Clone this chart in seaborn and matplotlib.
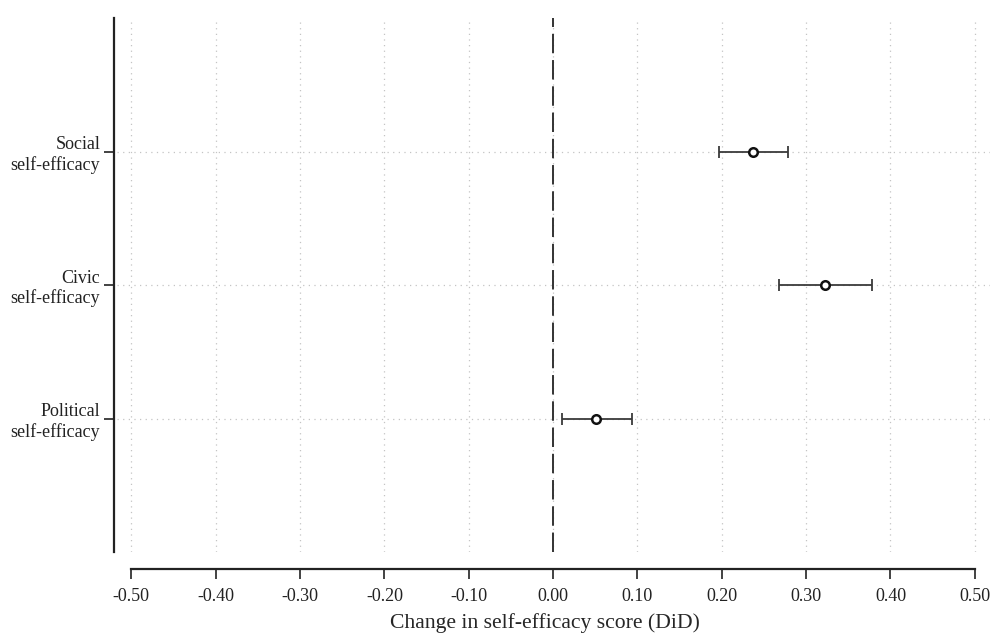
import pandas as pd
import seaborn as sns
import matplotlib.pyplot as plt

# Estimates (DiD coefficients with 95% CIs)
outcomes = ['Social\nself-efficacy', 'Civic\nself-efficacy', 'Political\nself-efficacy']
estimate = [0.237, 0.322, 0.051]
ci_low = [0.197, 0.268, 0.010]
ci_high = [0.278, 0.378, 0.093]
xticks = [-0.5, -0.4, -0.3, -0.2, -0.1, 0.0, 0.1, 0.2, 0.3, 0.4, 0.5]

df = pd.DataFrame({'outcome': outcomes, 'estimate': estimate,
                   'lo': ci_low, 'hi': ci_high})
df['pos'] = range(1, len(df) + 1)

sns.set_style('white')
plt.rcParams['font.family'] = ['Liberation Serif', 'DejaVu Serif']

fig = plt.figure(figsize=(9.93, 6.41), dpi=100)
ax = fig.add_axes([117 / 993, 1 - 552 / 641, (990 - 117) / 993, (552 - 18) / 641])

# grid lines
for x in xticks:
    ax.axvline(x, color='#c4c4c4', lw=0.9, ls=(0, (1, 3.5)), zorder=0)
for y in df['pos']:
    ax.axhline(y, color='#c4c4c4', lw=0.9, ls=(0, (1, 3.5)), zorder=0)

# reference line at zero
ax.axvline(0, color='#333333', lw=1.4, ls=(0, (10, 3.5)), zorder=1)

# confidence intervals
ax.errorbar(df['estimate'], df['pos'],
            xerr=[df['estimate'] - df['lo'], df['hi'] - df['estimate']],
            fmt='none', ecolor='#3a3a3a', elinewidth=1.3, capsize=4.5,
            capthick=1.3, zorder=2)

# point estimates
sns.scatterplot(data=df, x='estimate', y='pos', ax=ax, marker='o', s=38,
                facecolor='white', edgecolor='#111111', linewidth=1.8, zorder=3)

ax.set_xlim(-0.517, 0.518)
ax.set_ylim(4, 0)
ax.set_xticks(xticks)
ax.set_xticklabels([f'{x:.2f}' for x in xticks])
ax.set_yticks(df['pos'])
ax.set_yticklabels(df['outcome'], linespacing=1.0)
ax.set_xlabel('Change in self-efficacy score (DiD)', fontsize=15.6, labelpad=9)
ax.xaxis.set_label_coords(0.49, -0.115)
ax.set_ylabel('')

for side in ['top', 'right']:
    ax.spines[side].set_visible(False)
ax.spines['left'].set_position(('outward', 2))
ax.spines['left'].set_color('#222222')
ax.spines['left'].set_linewidth(1.6)
ax.spines['bottom'].set_position(('outward', 12))
ax.spines['bottom'].set_bounds(-0.5, 0.5)
ax.spines['bottom'].set_color('#222222')
ax.spines['bottom'].set_linewidth(1.6)

ax.tick_params(axis='x', direction='out', length=7, width=1.2, color='#222222',
               pad=7, labelcolor='#222222', labelsize=13)
ax.tick_params(axis='y', direction='out', length=7, width=1.2, color='#222222',
               pad=3, labelcolor='#222222', labelsize=13)
ax.tick_params(left=True, bottom=True)

fig.savefig('out.png', dpi=100)
